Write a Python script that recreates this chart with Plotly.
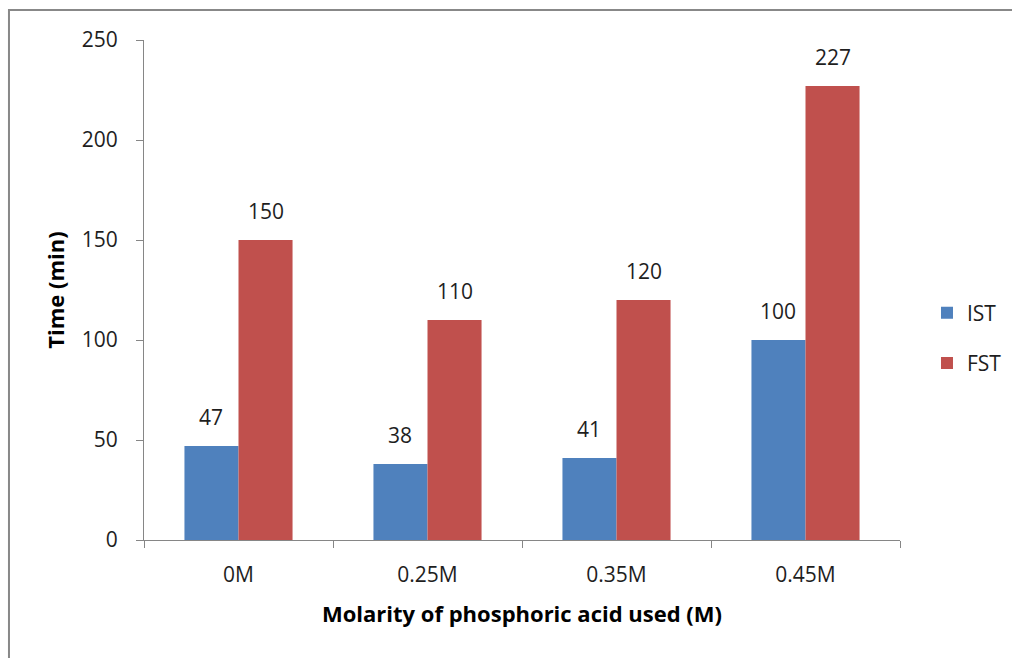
import plotly.graph_objects as go

# Data: stirring time by phosphoric acid molarity
categories = ["0M", "0.25M", "0.35M", "0.45M"]
ist_values = [47, 38, 41, 100]
fst_values = [150, 110, 120, 227]
y_ticks = [0, 50, 100, 150, 200, 250]

BLUE = "#4F81BD"
RED = "#C0504D"
AXIS_GRAY = "#868686"
FONT = "Open Sans"
TXT = "#1e1e1e"

fig = go.Figure()
fig.add_trace(go.Bar(name="IST", x=categories, y=ist_values,
                     marker=dict(color=BLUE, line=dict(width=0)),
                     legendgroup="ist"))
fig.add_trace(go.Bar(name="FST", x=categories, y=fst_values,
                     marker=dict(color=RED, line=dict(width=0)),
                     legendgroup="fst"))

# value labels above each bar (bar half-width in category units)
bargap = 0.428
half = (1 - bargap) / 4
annotations = []
for i, (a, b) in enumerate(zip(ist_values, fst_values)):
    for xv, yv in ((i - half, a), (i + half, b)):
        annotations.append(dict(x=xv, y=yv, xref="x", yref="y", text=str(yv),
                                showarrow=False, yanchor="bottom", yshift=13,
                                font=dict(family=FONT, size=21, color=TXT)))

fig.update_layout(
    width=1012, height=658,
    margin=dict(l=144, r=112, t=40, b=118, autoexpand=False),
    paper_bgcolor="white", plot_bgcolor="white",
    barmode="group", bargap=bargap, bargroupgap=0,
    font=dict(family=FONT, size=21, color=TXT),
    annotations=annotations,
    legend=dict(x=1.0357, y=0.404, xanchor="left", yanchor="middle",
                traceorder="grouped", tracegroupgap=20,
                font=dict(family=FONT, size=21, color=TXT),
                bgcolor="rgba(0,0,0,0)"),
    shapes=[dict(type="rect", xref="paper", yref="paper",
                 x0=-0.1786, x1=1.16, y0=-0.26, y1=1.06,
                 line=dict(color="#888888", width=2), fillcolor="rgba(0,0,0,0)",
                 layer="below")],
)

fig.update_xaxes(
    type="category", showline=True, linecolor=AXIS_GRAY, linewidth=1,
    ticks="outside", tickson="boundaries", ticklen=7, tickcolor=AXIS_GRAY,
    showgrid=False, zeroline=False, ticklabelstandoff=16,
    tickfont=dict(family=FONT, size=21, color=TXT),
    title=dict(text="<b>Molarity of phosphoric acid used (M)</b>",
               font=dict(family=FONT, size=22, color="#000"), standoff=19),
)
fig.update_yaxes(
    range=[0, 250], tickvals=y_ticks, showline=True, linecolor=AXIS_GRAY,
    linewidth=1, ticks="outside", ticklen=7, tickcolor=AXIS_GRAY,
    showgrid=False, zeroline=False, ticklabelstandoff=14,
    tickfont=dict(family=FONT, size=21, color=TXT),
    title=dict(text="<b>Time (min)</b>",
               font=dict(family=FONT, size=22, color="#000"), standoff=11),
)

fig.write_html("out.html")
